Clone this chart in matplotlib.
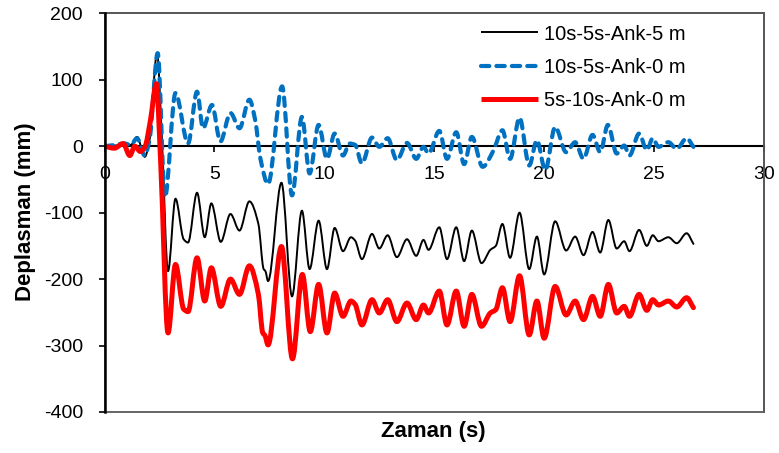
import numpy as np
import matplotlib
matplotlib.use("Agg")
import matplotlib.pyplot as plt
from matplotlib.path import Path
from matplotlib.patches import PathPatch, Rectangle
from matplotlib.lines import Line2D

plt.rcParams['font.family'] = ['Liberation Sans', 'DejaVu Sans']
plt.rcParams['axes.unicode_minus'] = False

# --- data: displacement time histories (time in s, displacement in mm) ---
t_ank5 = [0, 0.5, 0.9, 1.2, 1.48, 1.83, 2.05, 2.39, 2.6, 2.89, 3.23, 3.6, 3.8, 4.21,
          4.56, 4.86, 5.29, 5.73, 6.14, 6.59, 7.0, 7.24, 7.32, 7.44, 8.05, 8.53,
          8.98, 9.33, 9.74, 10.12, 10.47, 10.85, 11.21, 11.4, 11.71, 12.17, 12.5,
          12.88, 13.3, 13.76, 14.18, 14.51, 14.74, 15.23, 15.58, 16.0, 16.36,
          16.71, 17.15, 17.55, 17.8, 18.1, 18.45, 18.88, 19.32, 19.67, 20.0, 20.5,
          21.0, 21.41, 21.79, 22.2, 22.55, 22.92, 23.3, 23.64, 23.88, 24.32, 24.67,
          24.94, 25.2, 25.65, 26.03, 26.48, 26.79]
d_ank5 = [0, 1, 3, 2, 14, -16, 10, 140, 20, -188, -79, -140, -145, -70,
          -137, -86, -144, -102, -127, -83, -117, -185, -188, -203, -55, -226,
          -97, -185, -112, -185, -123, -158, -137, -142, -170, -132, -154,
          -134, -167, -140, -165, -141, -156, -122, -170, -122, -173,
          -127, -176, -156, -150, -117, -168, -100, -185, -136, -193, -113,
          -157, -136, -164, -129, -160, -111, -154, -143, -158, -126, -150,
          -134, -143, -137, -146, -131, -147]

t_ank0 = [0, 0.5, 0.9, 1.2, 1.48, 1.83, 2.05, 2.42, 2.75, 3.23, 3.8, 4.21, 4.48,
          4.89, 5.27, 5.73, 6.14, 6.59, 6.85, 7.1, 7.44, 8.08, 8.53, 8.98, 9.33,
          9.74, 10.12, 10.47, 10.85, 11.15, 11.4, 11.71, 12.17, 12.5, 12.88, 13.3,
          13.76, 14.18, 14.51, 14.74, 15.23, 15.58, 16.0, 16.36, 16.71, 17.2,
          17.7, 18.1, 18.45, 18.88, 19.32, 19.67, 20.05, 20.5, 21.0, 21.41, 21.79,
          22.2, 22.55, 22.9, 23.3, 23.64, 23.88, 24.32, 24.67, 24.94, 25.2, 25.65,
          26.03, 26.48, 26.79]
d_ank0 = [0, 2, 4, 2, 12, -14, 10, 140, -77, 80, 4, 82, 27,
          62, 7, 50, 27, 70, 40, -20, -57, 90, -74, 44, -41,
          32, -19, 19, -14, 4, 2, -26, 13, -1, 12, -21,
          5, -19, -1, -11, 23, -19, 21, -27, 14, -31,
          -6, 24, -19, 43, -29, 9, -36, 29, -9, 6, -19,
          17, -9, 32, -11, 1, -14, 19, -6, 12, -1, 6,
          -4, 12, -1]

t_5s10s = [0, 0.45, 0.85, 1.15, 1.38, 1.63, 1.85, 2.09, 2.36, 2.55, 2.89, 3.23,
           3.6, 3.8, 4.21, 4.56, 4.86, 5.29, 5.73, 6.14, 6.59, 7.0, 7.2, 7.3,
           7.44, 8.05, 8.55, 9.0, 9.36, 9.74, 10.12, 10.47, 10.85, 11.21, 11.4,
           11.71, 12.17, 12.5, 12.88, 13.3, 13.76, 14.18, 14.51, 14.74, 15.23,
           15.58, 16.0, 16.36, 16.71, 17.15, 17.55, 17.8, 18.1, 18.45, 18.88,
           19.32, 19.67, 20.0, 20.5, 21.0, 21.41, 21.79, 22.2, 22.55, 22.92, 23.3,
           23.64, 23.88, 24.32, 24.67, 24.94, 25.2, 25.65, 26.03, 26.48, 26.79]
d_5s10s = [0, -3, 4, -14, 0, -8, 0, 39, 94, -20, -281, -178,
           -245, -249, -168, -233, -183, -241, -200, -223, -180, -223, -281, -285,
           -299, -151, -320, -193, -279, -208, -281, -221, -256, -233, -238,
           -269, -231, -251, -231, -264, -236, -261, -239, -251, -218,
           -269, -218, -271, -223, -271, -251, -246, -213, -264, -195,
           -284, -233, -289, -211, -254, -233, -261, -226, -256, -208, -251,
           -241, -256, -223, -247, -231, -239, -233, -242, -228, -243]

labels = ['10s-5s-Ank-5 m', '10s-5s-Ank-0 m', '5s-10s-Ank-0 m']
x_ticks = [0, 5, 10, 15, 20, 25, 30]
y_ticks = [-400, -300, -200, -100, 0, 100, 200]


def smooth_path(x, y):
    """Smoothed line through the points (shape-preserving cubic segments as Bezier curves)."""
    x = np.asarray(x, float)
    y = np.asarray(y, float)
    h = np.diff(x)
    d = np.diff(y) / h
    m = np.zeros_like(y)
    m[0], m[-1] = d[0], d[-1]
    for k in range(1, len(x) - 1):
        if d[k - 1] * d[k] <= 0:
            m[k] = 0.0
        else:
            w1 = 2 * h[k] + h[k - 1]
            w2 = h[k] + 2 * h[k - 1]
            m[k] = (w1 + w2) / (w1 / d[k - 1] + w2 / d[k])
    verts = [(x[0], y[0])]
    codes = [Path.MOVETO]
    for k in range(len(x) - 1):
        verts += [(x[k] + h[k] / 3, y[k] + m[k] * h[k] / 3),
                  (x[k + 1] - h[k] / 3, y[k + 1] - m[k + 1] * h[k] / 3),
                  (x[k + 1], y[k + 1])]
        codes += [Path.CURVE4] * 3
    return Path(verts, codes)


W, H = 779, 453
fig = plt.figure(figsize=(W / 100, H / 100), dpi=100)
ax = fig.add_axes([104.5 / W, 1 - 412 / H, 659.5 / W, 398.7 / H])
ax.set_xlim(0, 30)
ax.set_ylim(-400, 200)

styles = [
    dict(color='black', lw=1.4, ls='-'),
    dict(color='#0070C0', lw=3.0, ls=(0, (2.0, 1.7))),
    dict(color='#FF0000', lw=3.6, ls='-'),
]
series = [(t_ank5, d_ank5), (t_ank0, d_ank0), (t_5s10s, d_5s10s)]
handles = []
for (tx, dy), st, lab in zip(series, styles, labels):
    patch = PathPatch(smooth_path(tx, dy), fill=False, edgecolor=st['color'],
                      linewidth=st['lw'], linestyle=st['ls'], capstyle='round',
                      joinstyle='round', zorder=3)
    ax.add_patch(patch)
    handles.append(Line2D([], [], color=st['color'], lw=st['lw'], ls=st['ls'],
                          dash_capstyle='round', solid_capstyle='butt'))

# plot-area frame
for s in ['top', 'right']:
    ax.spines[s].set_color('#595959')
    ax.spines[s].set_linewidth(1.3)
ax.add_patch(Rectangle((0, 0), 1, 1, transform=ax.transAxes, fill=False,
                       edgecolor='#595959', lw=1.3, clip_on=False, zorder=1))
ax.spines['left'].set_color('black')
ax.spines['left'].set_linewidth(1.8)
ax.spines['left'].set_zorder(4)
ax.spines['bottom'].set_position(('data', 0))
ax.spines['bottom'].set_color('black')
ax.spines['bottom'].set_linewidth(1.5)
ax.spines['bottom'].set_zorder(2)

ax.set_xticks(x_ticks)
ax.set_yticks(y_ticks)
ax.tick_params(axis='x', direction='out', length=4, width=1.2, pad=10, labelsize=14)
ax.tick_params(axis='y', direction='out', length=4.5, width=1.2, pad=11, labelsize=14)

fig.text(433 / W, 1 - 431 / H, 'Zaman (s)', ha='center', va='center',
         fontsize=16, fontweight='bold')
fig.text(26 / W, 1 - 212 / H, 'Deplasman (mm)', ha='center', va='center',
         rotation=90, fontsize=16, fontweight='bold')

ax.legend(handles, labels, loc='upper left', bbox_to_anchor=(481 / W, 1 - 24.5 / H),
          bbox_transform=fig.transFigure, frameon=False, fontsize=14.5,
          handlelength=2.85, handletextpad=0.3, labelspacing=0.7,
          borderpad=0, borderaxespad=0)

fig.savefig('out.png', dpi=100)
